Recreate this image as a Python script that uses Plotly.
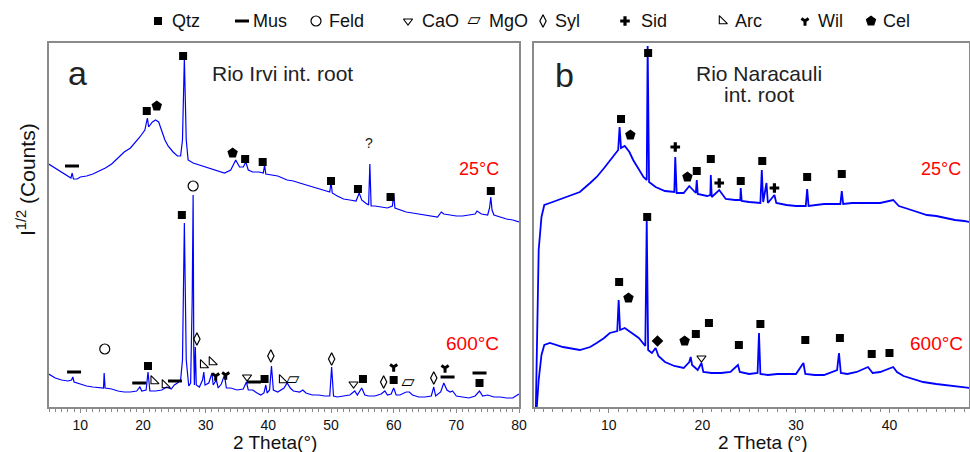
import plotly.graph_objects as go

# ---------------- data (x = 2 Theta in degrees, y = sqrt intensity, arbitrary units) -------------
# Panel a : Rio Irvi int. root, 25 °C
A25_X = [4.95, 6, 7, 8, 8.5, 8.7, 8.9, 9.5, 10, 11, 12, 13, 14, 15, 16, 17, 18, 19, 19.5, 20.3, 20.7, 20.9,
         21.5, 22, 22.5, 23, 23.5, 24, 24.8, 25.5, 26, 26.3, 26.6, 26.9, 27.2, 28, 29, 30, 31, 32, 33, 34,
         34.8, 35.4, 36, 36.4, 36.8, 37.5, 38.5, 39.2, 39.4, 39.6, 40.5, 41.5, 43, 44, 45, 46, 47, 48, 49,
         49.8, 50.0, 50.2, 51, 52, 53, 54, 54.5, 54.9, 55.5, 56.0, 56.2, 56.4, 57, 58, 59, 59.8, 60.0, 60.2,
         61, 62, 63, 64, 65, 66, 67, 67.6, 68, 69, 70, 71, 72, 73, 73.3, 74, 75, 75.3, 75.5, 75.7, 76, 77,
         78, 79, 80]
A25_Y = [243, 239, 235, 231, 229, 234, 228, 228, 230, 231, 233, 236, 239, 243, 249, 255, 259, 266, 270, 277,
         289, 280, 285, 287, 285, 276, 267, 261, 255, 251, 251, 267, 349, 267, 247, 244, 242, 240, 238, 236,
         234, 237, 247, 240, 240, 245, 237, 235, 235, 234, 242, 233, 232, 231, 227, 226, 224, 222, 220, 218,
         216, 215, 225, 214, 211, 208, 207, 206, 214, 207, 204, 202, 243, 201, 201, 200, 199, 201, 213, 199,
         197, 195, 194, 193, 192, 191, 190, 195, 193, 192, 191, 191, 192, 193, 196, 193, 192, 199, 210, 197,
         192, 190, 188, 187, 185]

# Panel a : 600 °C
A600_X = [4.95, 6, 7, 8, 8.6, 8.8, 9.0, 10, 11, 12, 13, 13.7, 13.8, 13.95, 15, 16, 17, 18, 19, 19.5, 19.8,
          20.5, 20.8, 21.1, 22, 23, 23.8, 24.5, 25, 25.5, 26, 26.3, 26.6, 26.9, 27.3, 27.6, 27.85, 28.0, 28.1,
          28.2, 28.35, 28.5, 29, 29.5, 29.7, 29.9, 30.5, 31.0, 31.2, 31.7, 32.0, 32.5, 33.0, 33.3, 34, 35, 36,
          36.5, 36.8, 37.5, 38.2, 38.8, 39.3, 39.6, 39.8, 40.2, 40.5, 40.8, 41.5, 42.5, 43, 43.5, 44, 45, 45.5,
          46, 47, 48, 49, 49.8, 50.1, 50.4, 51, 52, 53, 53.8, 54.2, 54.9, 55.4, 56, 57, 58, 58.6, 59, 59.6, 60,
          60.4, 61, 62, 62.5, 63, 64, 65, 66, 66.4, 66.7, 67.5, 68, 68.5, 69, 69.4, 70, 71, 72, 73, 73.7, 74.2,
          75, 76, 77, 78, 79, 80]
A600_Y = [33, 29, 27, 26, 27, 30, 25, 23, 21, 20, 19, 19, 34, 19, 18, 16, 15, 15, 16, 20, 16,
          17, 35, 16, 16, 17, 20, 18, 22, 24, 27, 47, 184, 47, 21, 24, 107, 212, 57,
          22, 60, 22, 20, 27, 35, 22, 24, 34, 22, 27, 19, 23, 32, 19, 19, 17, 18,
          25, 17, 17, 14, 12, 14, 22, 14, 17, 41, 17, 15, 19, 24, 19, 16, 15, 17,
          14, 12, 12, 11, 11, 40, 11, 10, 11, 12, 16, 12, 19, 12, 11, 11, 13, 16, 12, 13, 19,
          12, 12, 15, 15, 12, 10, 10, 11, 20, 11, 15, 24, 17, 15, 16, 11, 10, 9, 11, 16, 11,
          12, 10, 10, 9, 9, 13]

# Panel b : Rio Naracauli int. root, 25 °C
B25_X = [2.2, 2.5, 2.8, 3.1, 3.7, 5.1, 6.9, 8, 8.7, 9.5, 10.4, 11.0, 11.15, 11.3, 11.7, 12.2, 12.6, 13.2,
         13.7, 14.05, 14.15, 14.3, 15, 16, 17.0, 17.1, 17.25, 18, 18.6, 19.0, 19.3, 19.4, 19.5, 20.5, 20.85,
         20.9, 21.0, 21.8, 22.5, 23.5, 24.05, 24.1, 24.2, 25, 26.2, 26.35, 26.5, 26.85, 27.0, 27.7, 27.9, 29,
         30, 31.05, 31.2, 31.35, 32, 33, 34.75, 34.9, 35.05, 36, 37, 38.3, 39, 40.4, 41, 42, 43, 44, 45, 46,
         47, 48, 48.6]
B25_Y = [0, 157, 190, 202, 204, 209, 215, 224, 230, 239, 250, 257, 280, 259, 261, 255, 247, 237,
         230, 227, 361, 225, 220, 216, 215, 250, 214, 214, 221, 217, 214, 227, 213, 211, 212,
         232, 210, 217, 208, 207, 207, 219, 206, 205, 204, 237, 205, 224, 204, 212, 204, 202,
         201, 201, 218, 201, 202, 203, 203, 216, 203, 204, 204, 204, 204, 207, 201, 198, 195, 192, 191, 189,
         187, 186, 185]

# Panel b : 600 °C
B600_X = [2.3, 2.5, 2.8, 3.1, 3.7, 5.1, 6.9, 8, 8.7, 9.5, 10.1, 10.9, 11.05, 11.2, 11.7, 12.5, 13.2, 13.9,
          14.05, 14.2, 14.6, 15.0, 15.3, 16, 17, 18, 18.6, 18.75, 18.9, 19.5, 19.9, 20.1, 21, 22, 23, 23.8,
          24.0, 25, 25.9, 26.05, 26.2, 27, 28, 29, 30, 30.8, 31, 32, 33, 34.4, 34.6, 34.8, 35.5, 36.5, 37.7,
          38.2, 39, 40.4, 40.8, 41.5, 42.5, 43.6, 45, 46, 47, 48.6]
B600_Y = [0, 27, 52, 62, 64, 60, 57, 60, 64, 69, 74, 76, 107, 77, 79, 74, 69, 61,
          187, 57, 54, 59, 51, 45, 41, 39, 45, 50, 42, 37, 44, 35, 34, 34, 35, 42,
          35, 33, 34, 74, 33, 32, 33, 33, 33, 44, 33, 32, 32, 37, 54, 34, 33, 35, 40,
          34, 35, 40, 35, 31, 28, 25, 23, 22, 21, 19]

# Phase markers: (phase, 2 Theta, height)
A25_PEAKS = [("Mus", 8.67, 241), ("Qtz", 20.6, 296), ("Cel", 22.2, 301), ("Qtz", 26.4, 351),
             ("Cel", 34.3, 254), ("Qtz", 36.3, 248), ("Qtz", 39.1, 245), ("Qtz", 50.0, 226),
             ("Qtz", 54.3, 218), ("Qtz", 59.5, 210), ("Qtz", 75.5, 216)]
A600_PEAKS = [("Mus", 9.0, 35), ("Feld", 13.9, 58), ("Mus", 19.4, 24), ("Qtz", 20.8, 41), ("Arc", 21.7, 26),
              ("Arc", 23.5, 22), ("Mus", 25.1, 26), ("Qtz", 26.2, 192), ("Feld", 28.0, 221), ("Syl", 28.6, 68),
              ("Arc", 29.6, 42), ("Arc", 31.0, 45), ("Wil", 31.6, 31), ("Wil", 33.2, 32), ("CaO", 36.6, 30),
              ("Mus", 37.7, 25), ("Qtz", 39.4, 28), ("Syl", 40.4, 51), ("Arc", 42.2, 27), ("MgO", 43.9, 27),
              ("Syl", 50.1, 48), ("CaO", 53.6, 23), ("Qtz", 55.1, 28), ("Syl", 58.4, 25), ("Qtz", 60.0, 27),
              ("Wil", 60.0, 40), ("MgO", 62.3, 24), ("Syl", 66.4, 29), ("Wil", 68.2, 39), ("Mus", 68.6, 30),
              ("Mus", 73.7, 34), ("Qtz", 73.7, 24)]
B25_PEAKS = [("Qtz", 11.3, 288), ("Cel", 12.3, 272), ("Qtz", 14.2, 354), ("Sid", 17.1, 260), ("Cel", 18.4, 230),
             ("Qtz", 19.4, 236), ("Qtz", 20.9, 248), ("Sid", 21.8, 224), ("Qtz", 24.1, 226), ("Qtz", 26.4, 246),
             ("Sid", 27.7, 219), ("Qtz", 31.2, 230), ("Qtz", 34.9, 233)]
B600_PEAKS = [("Qtz", 11.1, 125), ("Cel", 12.1, 109), ("Qtz", 14.1, 190), ("SylF", 15.2, 66), ("Cel", 18.1, 66),
              ("Qtz", 19.3, 73), ("Qtz", 20.7, 84), ("CaO", 19.9, 49), ("Qtz", 23.9, 62), ("Qtz", 26.2, 83),
              ("Qtz", 31.0, 67), ("Qtz", 34.7, 69), ("Qtz", 38.1, 53), ("Qtz", 40.0, 54)]

LEGEND_NAMES = ["Qtz", "Mus", "Feld", "CaO", "MgO", "Syl", "Sid", "Arc", "Wil", "Cel"]

# ---------------- styling ----------------
W, H = 970, 452
FONT = "Liberation Sans, Arial, sans-serif"
GREY = "#8a8a8a"
BLUE = "#0000ff"

STYLE = {
    "Qtz": dict(symbol="square", size=8, color="black", line=dict(width=0)),
    "Mus": dict(symbol="line-ew", size=10, color="black", line=dict(width=3, color="black")),
    "Feld": dict(symbol="circle-open", size=10, color="black", line=dict(width=1.2)),
    "CaO": dict(symbol="triangle-down-open", size=8, color="black", line=dict(width=1.1)),
    "Syl": dict(symbol="diamond-tall-open", size=9, color="black", line=dict(width=1.2)),
    "SylF": dict(symbol="diamond", size=9, color="black", line=dict(width=0)),
    "Sid": dict(symbol="cross", size=8, color="black", line=dict(width=0)),
    "Arc": dict(symbol="triangle-sw-open", size=9, color="black", line=dict(width=1.1)),
    "Wil": dict(symbol="y-down-open", size=6, color="black", line=dict(width=3, color="black")),
    "Cel": dict(symbol="pentagon", size=11, color="black", line=dict(width=0)),
}
MGO_GLYPH = "\u25b1"

fig = go.Figure()


def add_curve(xs, ys, xa, ya, width):
    fig.add_trace(go.Scatter(x=xs, y=ys, mode="lines", line=dict(color=BLUE, width=width),
                             xaxis=xa, yaxis=ya, hoverinfo="skip", showlegend=False))


def add_marks(peaks, xa, ya):
    names = []
    for p in peaks:
        if p[0] not in names:
            names.append(p[0])
    for n in names:
        xs = [p[1] for p in peaks if p[0] == n]
        ys = [p[2] for p in peaks if p[0] == n]
        if n == "MgO":
            fig.add_trace(go.Scatter(x=xs, y=ys, mode="text", text=[MGO_GLYPH] * len(xs),
                                     textfont=dict(family="DejaVu Sans", size=17, color="black"),
                                     xaxis=xa, yaxis=ya, showlegend=False, cliponaxis=False))
        else:
            fig.add_trace(go.Scatter(x=xs, y=ys, mode="markers", marker=STYLE[n],
                                     xaxis=xa, yaxis=ya, showlegend=False, cliponaxis=False))


add_curve(A25_X, A25_Y, "x", "y", 1.2)
add_curve(A600_X, A600_Y, "x", "y", 1.2)
add_curve(B25_X, B25_Y, "x2", "y2", 1.8)
add_curve(B600_X, B600_Y, "x2", "y2", 1.8)
add_marks(A25_PEAKS, "x", "y")
add_marks(A600_PEAKS, "x", "y")
add_marks(B25_PEAKS, "x2", "y2")
add_marks(B600_PEAKS, "x2", "y2")

# ---------------- custom legend along the top strip (pixel-scaled strip axis) ----------------
TOP = 42
LEG_MARK_X = [158, 242, 316, 408, 474, 543, 625, 722, 805, 871]
LEG_TEXT_X = [170, 251, 327, 420, 487, 553, 639, 733, 816, 881]
LEG_Y = 21
annotations = []
for name, mx, tx in zip(LEGEND_NAMES, LEG_MARK_X, LEG_TEXT_X):
    if name == "MgO":
        fig.add_trace(go.Scatter(x=[mx], y=[LEG_Y], mode="text", text=[MGO_GLYPH],
                                 textfont=dict(family="DejaVu Sans", size=17, color="black"),
                                 xaxis="x3", yaxis="y3", showlegend=False, cliponaxis=False))
    else:
        fig.add_trace(go.Scatter(x=[mx], y=[LEG_Y], mode="markers", marker=STYLE[name],
                                 xaxis="x3", yaxis="y3", showlegend=False, cliponaxis=False))
    annotations.append(dict(x=tx / W, y=1 - LEG_Y / H, xref="paper", yref="paper", text=name,
                            showarrow=False, xanchor="left", yanchor="middle",
                            font=dict(family=FONT, size=18, color="#111")))

# ---------------- texts ----------------
def txt(x, y, s, xa, ya, size, color="#222", xanchor="center"):
    annotations.append(dict(x=x, y=y, xref=xa, yref=ya, text=s, showarrow=False,
                            xanchor=xanchor, yanchor="middle", font=dict(family=FONT, size=size, color=color)))

txt(9.6, 334, "a", "x", "y", 34)
txt(30.7, 334, "Rio Irvi int. root", "x", "y", 21, xanchor="left")
txt(73.6, 238, "25°C", "x", "y", 18, "#ff0000")
txt(72.6, 64, "600°C", "x", "y", 19, "#ff0000")
txt(56.0, 264, "?", "x", "y", 14)
txt(5.3, 332, "b", "x2", "y2", 34)
txt(26.1, 334, "Rio Naracauli", "x2", "y2", 21)
txt(26.1, 313, "int. root", "x2", "y2", 21)
txt(45.5, 238, "25°C", "x2", "y2", 18, "#ff0000")
txt(45.0, 64, "600°C", "x2", "y2", 19, "#ff0000")

# axis titles
annotations.append(dict(x=275 / W, y=1 - 442 / H, xref="paper", yref="paper", text="2 Theta(°)",
                        showarrow=False, xanchor="center", yanchor="middle", borderpad=0,
                        font=dict(family=FONT, size=19, color="#111")))
annotations.append(dict(x=763 / W, y=1 - 442 / H, xref="paper", yref="paper", text="2 Theta (°)",
                        showarrow=False, xanchor="center", yanchor="middle", borderpad=0,
                        font=dict(family=FONT, size=19, color="#111")))
annotations.append(dict(x=26 / W, y=1 - 180 / H, xref="paper", yref="paper",
                        text="I<sup>1/2</sup> (Counts)", textangle=-90,
                        showarrow=False, xanchor="center", yanchor="middle",
                        font=dict(family=FONT, size=21, color="#111")))

xcommon = dict(showline=True, linecolor=GREY, linewidth=1.5, mirror=True, ticks="outside",
               ticklen=4, tickcolor=GREY, tickwidth=1, showgrid=False, zeroline=False,
               tickfont=dict(family=FONT, size=14, color="#111"), dtick=10, tick0=0,
               minor=dict(dtick=1, ticks="outside", ticklen=3, tickcolor=GREY, tickwidth=1, showgrid=False))
ycommon = dict(showline=True, linecolor=GREY, linewidth=1.5, mirror=True, ticks="",
               showticklabels=False, showgrid=False, zeroline=False, range=[0, 364])

ydom = [1 - 407 / H, 1 - 43 / H]
fig.update_layout(
    width=W, height=H, margin=dict(l=0, r=0, t=0, b=0, autoexpand=False),
    paper_bgcolor="white", plot_bgcolor="rgba(0,0,0,0)",
    showlegend=False,
    xaxis=dict(xcommon, domain=[49 / W, 519 / W], range=[5, 80], anchor="y", automargin=False),
    yaxis=dict(ycommon, domain=ydom, anchor="x", automargin=False),
    xaxis2=dict(xcommon, domain=[534 / W, 969 / W], range=[2, 48.5], anchor="y2", automargin=False),
    yaxis2=dict(ycommon, domain=ydom, anchor="x2", automargin=False),
    xaxis3=dict(domain=[0, 1], range=[0, W], visible=False, anchor="y3", automargin=False),
    yaxis3=dict(domain=[1 - TOP / H, 1], range=[TOP, 0], visible=False, anchor="x3", automargin=False),
    annotations=annotations,
)

fig.write_html("out.html", config={"displayModeBar": False},
               post_script="document.body.style.margin='0';document.body.style.padding='0';")
